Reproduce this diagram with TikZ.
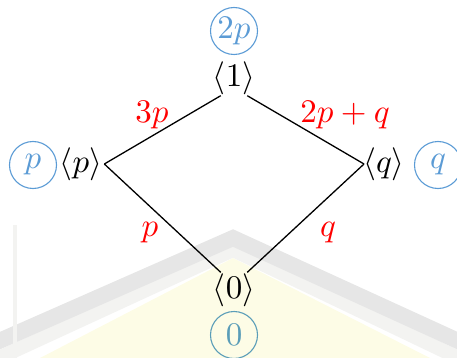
\documentclass[tikz,border=0pt]{standalone}
\usepackage{graphicx}
\usepackage{amsmath}
\definecolor{cblue}{HTML}{5B9BD5}
\definecolor{cteal}{HTML}{5A9DB8}
\definecolor{cred}{HTML}{FF0000}
\definecolor{wmgray}{HTML}{E6E6E6}
\definecolor{wmlight}{HTML}{F3F3F1}
\definecolor{wmyellow}{HTML}{FDFCE6}
\newcommand{\bigtxt}[1]{\scalebox{3.3}{#1}}
\begin{document}
\begin{tikzpicture}[x=1pt,y=-1pt,
  lbl/.style={inner sep=1pt},
  val/.style={circle,draw=cblue,line width=1.1pt,minimum size=47pt,inner sep=0pt,text=cblue},
  wt/.style={text=cred,inner sep=0pt},
  edge/.style={draw=black,line width=1.3pt}]
\useasboundingbox (0,0) rectangle (457,358);
% faint watermark in the background
\fill[wmyellow] (40,358) -- (233,258) -- (430,358) -- cycle;
\draw[wmlight,line width=14pt] (-10,362) -- (233,250) -- (467,362);
\draw[wmgray,line width=16pt] (-10,345) -- (233,238) -- (467,345);
\fill[wmlight] (13,225) rectangle (17,358);
% lattice nodes
\node[lbl] (one) at (234,78) {\bigtxt{$\langle 1\rangle$}};
\node[lbl] (pp) at (81,164) {\bigtxt{$\langle p\rangle$}};
\node[lbl] (qq) at (384,164) {\bigtxt{$\langle q\rangle$}};
\node[lbl] (zero) at (234,290) {\bigtxt{$\langle 0\rangle$}};
% valuation circles
\node[val] (v1) at (234,31) {\bigtxt{$2p$}};
\node[val] (vp) at (33,165) {\bigtxt{$p$}};
\node[val] (vq) at (438,165) {\bigtxt{$q$}};
\node[val,draw=cteal,text=cteal] (v0) at (234,335) {\bigtxt{$0$}};
% edges
\draw[edge] ([xshift=9pt]one.south west) -- ([xshift=1pt]pp.east);
\draw[edge] ([xshift=-9pt]one.south east) -- ([xshift=2pt]qq.west);
\draw[edge] ([xshift=1pt]pp.east) -- ([xshift=9pt]zero.north west);
\draw[edge] ([xshift=2pt]qq.west) -- ([xshift=-9pt]zero.north east);
% edge weights
\node[wt] (w1) at (152,115) {\bigtxt{$3p$}};
\node[wt] (w2) at (345,115) {\bigtxt{$2p+q$}};
\node[wt] (w3) at (150,233) {\bigtxt{$p$}};
\node[wt] (w4) at (328,233) {\bigtxt{$q$}};
\end{tikzpicture}
\end{document}
